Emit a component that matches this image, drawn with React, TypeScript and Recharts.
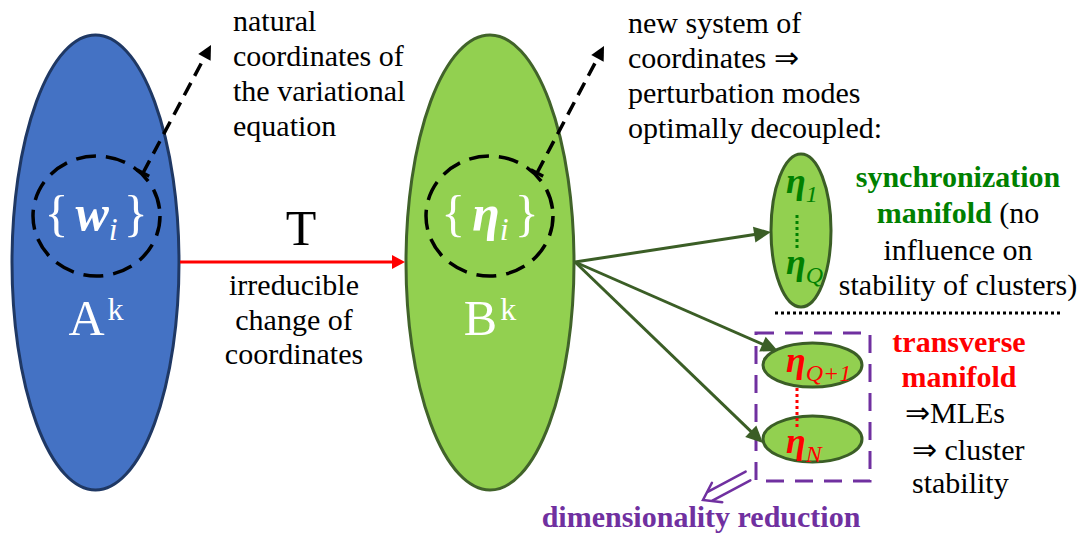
import { ScatterChart, Scatter, XAxis, YAxis, ReferenceArea, ReferenceLine } from 'recharts';

const W = 1080;
const H = 538;
const SERIF = '"Liberation Serif", "Times New Roman", serif';

// diagram units: x to the right, y downwards (same size as the picture)
const ellipseNodes = [
  { id: 'A', x1: 12, x2: 179, y1: 35, y2: 490 },
  { id: 'B', x1: 406, x2: 574, y1: 35, y2: 490 },
  { id: 'A-coords', x1: 33, x2: 160, y1: 156, y2: 276 },
  { id: 'B-coords', x1: 426, x2: 553, y1: 156, y2: 276 },
  { id: 'sync', x1: 771, x2: 831, y1: 154, y2: 307 },
  { id: 'transQ1', x1: 763, x2: 862, y1: 343, y2: 387 },
  { id: 'transN', x1: 763, x2: 862, y1: 416, y2: 462 },
];

const reductionBox = { x1: 756, x2: 870, y1: 333, y2: 481 };

const arrows = [
  { id: 'noteA', from: [143, 173], to: [211, 45] },
  { id: 'noteB', from: [537, 173], to: [604, 46] },
  { id: 'T', from: [180, 262], to: [405, 262] },
  { id: 'toSync', from: [575, 262], to: [771, 232] },
  { id: 'toQ1', from: [575, 262], to: [778, 351] },
  { id: 'toN', from: [575, 262], to: [763, 443] },
  { id: 'reduce', from: [748, 476], to: [703, 500] },
];

const dottedLines = [
  { id: 'split', from: [775, 313], to: [1063, 313] },
  { id: 'syncDots', from: [797, 215], to: [797, 250] },
  { id: 'transDots', from: [797, 388], to: [797, 428] },
];

const naturalNote = ['natural', 'coordinates of', 'the variational', 'equation'];
const newSystemNote = ['new system of', 'coordinates \u21D2', 'perturbation modes', 'optimally decoupled:'];
const changeNote = ['irreducible', 'change of', 'coordinates'];
const syncNote = ['influence on', 'stability of clusters)'];
const transNote = ['\u21D2MLEs', '\u21D2 cluster', 'stability'];

const labelAnchors = [
  { id: 'natural', x: 233, y: 31 },
  { id: 'newSystem', x: 628, y: 33 },
  { id: 'T', x: 301, y: 245 },
  { id: 'change', x: 294, y: 295 },
  { id: 'wi', x: 96, y: 230 },
  { id: 'etai', x: 490, y: 230 },
  { id: 'Ak', x: 96, y: 335 },
  { id: 'Bk', x: 490, y: 335 },
  { id: 'eta1', x: 786, y: 193 },
  { id: 'etaQ', x: 786, y: 274 },
  { id: 'etaQ1', x: 786, y: 372 },
  { id: 'etaN', x: 786, y: 453 },
  { id: 'sync', x: 958, y: 187 },
  { id: 'trans', x: 959, y: 352 },
  { id: 'transList', x: 905, y: 423 },
  { id: 'reduction', x: 701, y: 527 },
];

const GREEN_TXT = '#008000';
const PURPLE = '#7030A0';
const RED = '#FF0000';
const DARK_GREEN = '#3B5E26';

const nodeStyle: Record<string, any> = {
  A: { fill: '#4472C4', stroke: '#1F3864', strokeWidth: 3 },
  B: { fill: '#92D050', stroke: '#41632A', strokeWidth: 3 },
  'A-coords': { fill: 'none', stroke: '#000', strokeWidth: 3.5, strokeDasharray: '20 10' },
  'B-coords': { fill: 'none', stroke: '#000', strokeWidth: 3.5, strokeDasharray: '20 10' },
  sync: { fill: '#92D050', stroke: DARK_GREEN, strokeWidth: 3 },
  transQ1: { fill: '#92D050', stroke: DARK_GREEN, strokeWidth: 3 },
  transN: { fill: '#92D050', stroke: DARK_GREEN, strokeWidth: 3 },
};

const arrowStyle: Record<string, any> = {
  noteA: { stroke: '#000', width: 3.5, dash: '14 8', head: 14, headW: 7, tick: true },
  noteB: { stroke: '#000', width: 3.5, dash: '14 8', head: 14, headW: 7, tick: true },
  T: { stroke: RED, width: 3, head: 13, headW: 7 },
  toSync: { stroke: DARK_GREEN, width: 3, head: 17, headW: 8 },
  toQ1: { stroke: DARK_GREEN, width: 3, head: 17, headW: 8 },
  toN: { stroke: DARK_GREEN, width: 3, head: 17, headW: 8 },
};

const dotStyle: Record<string, string> = {
  split: '#000',
  syncDots: GREEN_TXT,
  transDots: RED,
};

const ellipseShape = (id: string) => (p: any) => {
  const s = nodeStyle[id];
  return (
    <ellipse
      cx={p.x + p.width / 2}
      cy={p.y + p.height / 2}
      rx={p.width / 2}
      ry={p.height / 2}
      {...s}
    />
  );
};

const boxShape = (p: any) => (
  <rect x={p.x} y={p.y} width={p.width} height={p.height} fill="none" stroke={PURPLE} strokeWidth={3} strokeDasharray="18 11" />
);

const arrowShape = (id: string) => (p: any) => {
  const { x1, y1, x2, y2 } = p;
  const dx = x2 - x1;
  const dy = y2 - y1;
  const len = Math.hypot(dx, dy);
  const ux = dx / len;
  const uy = dy / len;
  const px = -uy;
  const py = ux;
  if (id === 'reduce') {
    // hollow double arrow
    const off = 5;
    const stop = 8;
    const ex = x2 - ux * stop;
    const ey = y2 - uy * stop;
    const hl = 16;
    const hw = 11;
    return (
      <g stroke={PURPLE} strokeWidth={2.5} fill="none" strokeLinecap="round">
        <line x1={x1 + px * off} y1={y1 + py * off} x2={ex + px * off} y2={ey + py * off} />
        <line x1={x1 - px * off} y1={y1 - py * off} x2={ex - px * off} y2={ey - py * off} />
        <polyline
          points={`${x2 - ux * hl + px * hw},${y2 - uy * hl + py * hw} ${x2},${y2} ${x2 - ux * hl - px * hw},${y2 - uy * hl - py * hw}`}
        />
      </g>
    );
  }
  const s = arrowStyle[id];
  const bx = x2 - ux * s.head;
  const by = y2 - uy * s.head;
  return (
    <g>
      <line x1={x1} y1={y1} x2={bx + ux * 2} y2={by + uy * 2} stroke={s.stroke} strokeWidth={s.width} strokeDasharray={s.dash} />
      <polygon
        points={`${x2},${y2} ${bx + px * s.headW},${by + py * s.headW} ${bx - px * s.headW},${by - py * s.headW}`}
        fill={s.stroke}
      />
      {s.tick && (
        <line x1={x1 + px * 7} y1={y1 + py * 7} x2={x1 - px * 7} y2={y1 - py * 7} stroke={s.stroke} strokeWidth={3.5} />
      )}
    </g>
  );
};

const dottedShape = (id: string) => (p: any) => (
  <line x1={p.x1} y1={p.y1} x2={p.x2} y2={p.y2} stroke={dotStyle[id]} strokeWidth={3} strokeDasharray="3 3" />
);

const lines = (rows: string[], x: number, step: number) =>
  rows.map((r, i) => (
    <tspan key={i} x={x} dy={i === 0 ? 0 : step}>
      {r}
    </tspan>
  ));

const renderLabel = (p: any) => {
  const { cx, cy, payload } = p;
  const base = { fontFamily: SERIF };
  switch (payload.id) {
    case 'natural':
      return <text {...base} x={cx} y={cy} fontSize={30} fill="#000">{lines(naturalNote, cx, 35)}</text>;
    case 'newSystem':
      return <text {...base} x={cx} y={cy} fontSize={30} fill="#000">{lines(newSystemNote, cx, 35)}</text>;
    case 'change':
      return (
        <text {...base} x={cx} y={cy} fontSize={30} fill="#000" textAnchor="middle">
          {lines(changeNote, cx, 34.5)}
        </text>
      );
    case 'T':
      return <text {...base} x={cx} y={cy} fontSize={50} fill="#000" textAnchor="middle">T</text>;
    case 'wi':
      return (
        <text {...base} x={cx} y={cy} fontSize={50} fill="#fff" textAnchor="middle">
          <tspan>{'{'}</tspan>
          <tspan dx={7} fontWeight="bold" fontStyle="italic">w</tspan>
          <tspan fontSize={32} fontStyle="italic" dy={10}>i</tspan>
          <tspan dx={6} dy={-10}>{'}'}</tspan>
        </text>
      );
    case 'etai':
      return (
        <text {...base} x={cx} y={cy} fontSize={50} fill="#fff" textAnchor="middle">
          <tspan>{'{'}</tspan>
          <tspan dx={7} fontWeight="bold" fontStyle="italic">{'\u03B7'}</tspan>
          <tspan fontSize={32} fontStyle="italic" dy={10}>i</tspan>
          <tspan dx={6} dy={-10}>{'}'}</tspan>
        </text>
      );
    case 'Ak':
    case 'Bk':
      return (
        <text {...base} x={cx} y={cy} fontSize={50} fill="#fff" textAnchor="middle">
          <tspan>{payload.id === 'Ak' ? 'A' : 'B'}</tspan>
          <tspan fontSize={32} dx={3} dy={-15}>k</tspan>
        </text>
      );
    case 'eta1':
    case 'etaQ':
    case 'etaQ1':
    case 'etaN': {
      const sub = { eta1: '1', etaQ: 'Q', etaQ1: 'Q+1', etaN: 'N' }[payload.id as 'eta1'];
      const col = payload.id === 'eta1' || payload.id === 'etaQ' ? GREEN_TXT : RED;
      return (
        <text {...base} x={cx} y={cy} fontSize={36} fill={col} fontStyle="italic">
          <tspan fontWeight="bold">{'\u03B7'}</tspan>
          <tspan fontSize={24} dy={9}>{sub}</tspan>
        </text>
      );
    }
    case 'sync':
      return (
        <text {...base} x={cx} y={cy} fontSize={30} fill="#000" textAnchor="middle">
          <tspan x={cx} fontWeight="bold" fill={GREEN_TXT}>synchronization</tspan>
          <tspan x={cx} dy={36}>
            <tspan fontWeight="bold" fill={GREEN_TXT}>manifold</tspan>
            <tspan> (no</tspan>
          </tspan>
          {syncNote.map((r, i) => (
            <tspan key={i} x={cx} dy={i === 0 ? 37 : 35}>
              {r}
            </tspan>
          ))}
        </text>
      );
    case 'trans':
      return (
        <text {...base} x={cx} y={cy} fontSize={30} fill={RED} fontWeight="bold" textAnchor="middle">
          <tspan x={cx}>transverse</tspan>
          <tspan x={cx} dy={35}>manifold</tspan>
        </text>
      );
    case 'transList':
      return (
        <text {...base} x={cx} y={cy} fontSize={30} fill="#000">
          <tspan x={cx}>{transNote[0]}</tspan>
          <tspan x={cx + 7} dy={37}>{transNote[1]}</tspan>
          <tspan x={cx + 7} dy={33}>{transNote[2]}</tspan>
        </text>
      );
    case 'reduction':
      return (
        <text {...base} x={cx} y={cy} fontSize={30} fill={PURPLE} fontWeight="bold" textAnchor="middle">
          dimensionality reduction
        </text>
      );
    default:
      return <g />;
  }
};

export default function App() {
  return (
    <div style={{ position: 'absolute', left: 0, top: 0, width: W, height: H, background: '#fff' }}>
      <ScatterChart width={W} height={H} margin={{ top: 0, right: 0, bottom: 0, left: 0 }}>
        <XAxis type="number" dataKey="x" domain={[0, W]} allowDataOverflow hide />
        <YAxis type="number" dataKey="y" domain={[0, H]} allowDataOverflow reversed hide />
        {ellipseNodes.map((n) => (
          <ReferenceArea
            key={n.id}
            x1={n.x1}
            x2={n.x2}
            y1={n.y1}
            y2={n.y2}
            ifOverflow="visible"
            shape={ellipseShape(n.id)}
          />
        ))}
        <ReferenceArea
          x1={reductionBox.x1}
          x2={reductionBox.x2}
          y1={reductionBox.y1}
          y2={reductionBox.y2}
          ifOverflow="visible"
          shape={boxShape}
        />
        {arrows.map((a) => (
          <ReferenceLine
            key={a.id}
            segment={[
              { x: a.from[0], y: a.from[1] },
              { x: a.to[0], y: a.to[1] },
            ]}
            ifOverflow="visible"
            shape={arrowShape(a.id)}
          />
        ))}
        {dottedLines.map((d) => (
          <ReferenceLine
            key={d.id}
            segment={[
              { x: d.from[0], y: d.from[1] },
              { x: d.to[0], y: d.to[1] },
            ]}
            ifOverflow="visible"
            shape={dottedShape(d.id)}
          />
        ))}
        <Scatter data={labelAnchors} shape={renderLabel} isAnimationActive={false} />
      </ScatterChart>
    </div>
  );
}
